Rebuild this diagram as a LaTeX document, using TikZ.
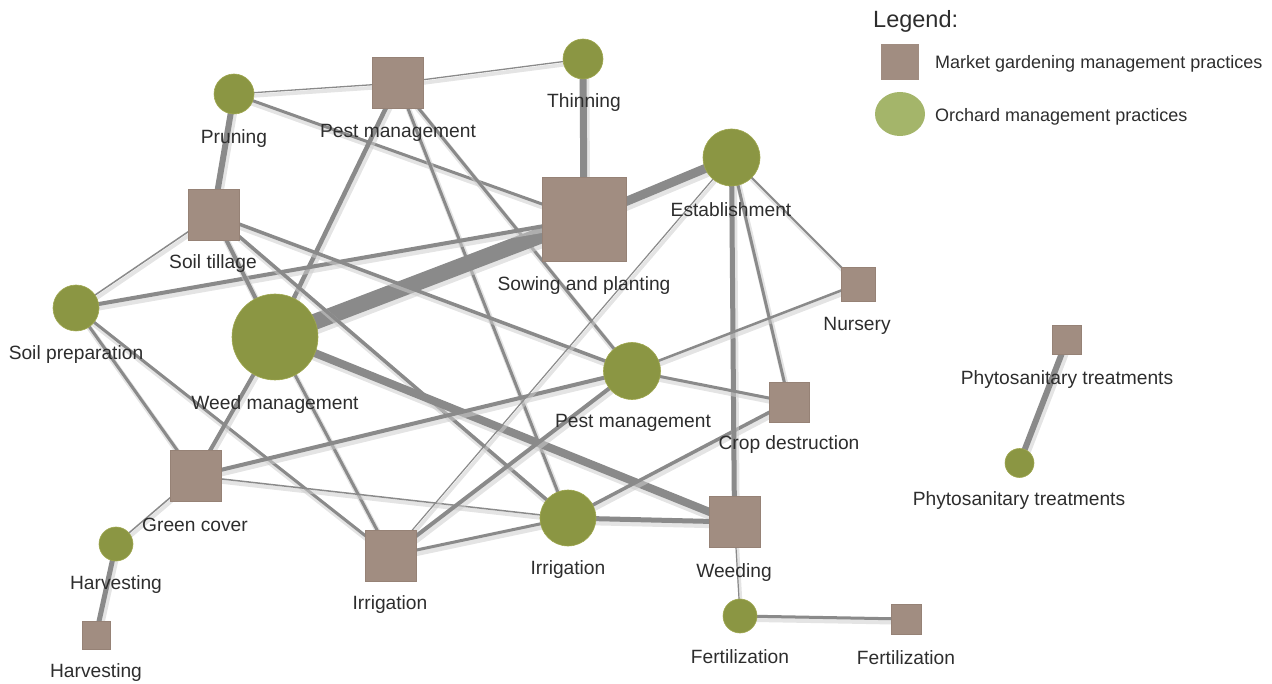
\documentclass[tikz,border=0pt]{standalone}
\usepackage{fontspec}
\setmainfont{Liberation Sans}
\usetikzlibrary{backgrounds,shapes.geometric}
\definecolor{sqfill}{RGB}{161,141,129}
\definecolor{sqdraw}{RGB}{150,130,118}
\definecolor{cifill}{RGB}{139,150,67}
\definecolor{cidraw}{RGB}{160,168,80}
\definecolor{legcirc}{RGB}{164,181,106}
\definecolor{edgecol}{RGB}{138,138,138}
\definecolor{shadowcol}{RGB}{205,205,205}
\definecolor{txt}{RGB}{45,45,45}
\tikzset{
  sq/.style={rectangle, fill=sqfill, draw=sqdraw, line width=0.6pt, minimum size=#1, inner sep=0pt},
  ci/.style={circle, fill=cifill, draw=cidraw, line width=0.6pt, minimum size=#1, inner sep=0pt},
  lab/.style={text=txt, font=\fontsize{19.2}{21}\selectfont, inner sep=0pt, anchor=center},
  legtxt/.style={text=txt, font=\fontsize{18}{20}\selectfont, inner sep=0pt, anchor=west},
  edge/.style={draw=edgecol, line width=#1, line cap=butt,
    preaction={draw=shadowcol, line width=#1+2.5pt, opacity=0.55, transform canvas={shift={(1.5pt,-3pt)}}}},
}
\begin{document}
\begin{tikzpicture}[x=1pt,y=-1pt]
\useasboundingbox (0,0) rectangle (1272,684);
% nodes
\node[ci=40pt] (PR) at (234,94) {};
\node[sq=51pt] (PMm) at (398,83) {};
\node[ci=40pt] (TH) at (583,59) {};
\node[sq=84pt] (SP) at (584,219) {};
\node[ci=57pt] (ES) at (731.5,157.5) {};
\node[sq=51pt] (ST) at (213.5,214.5) {};
\node[ci=46pt] (SPr) at (76,308) {};
\node[ci=86pt] (WM) at (275,337) {};
\node[sq=34pt] (NU) at (858,284) {};
\node[ci=57pt] (PMo) at (632,371) {};
\node[sq=40pt] (CD) at (789,402) {};
\node[sq=51pt] (GC) at (195.5,476) {};
\node[ci=34pt] (HVo) at (116,544) {};
\node[sq=28pt] (HVm) at (96,635) {};
\node[sq=51pt] (IRm) at (390.5,555.5) {};
\node[ci=56pt] (IRo) at (568,518) {};
\node[sq=51pt] (WE) at (734.5,522) {};
\node[ci=34pt] (FEo) at (740,616) {};
\node[sq=30pt] (FEm) at (906,619) {};
\node[sq=29pt] (PHm) at (1067,340) {};
\node[ci=29pt] (PHo) at (1019.5,463) {};
% edges
\begin{scope}[on background layer]
\draw[edge=1.3pt] (PR.center) -- (PMm.center);
\draw[edge=6pt] (PR.center) -- (ST.center);
\draw[edge=3pt] (PR.center) -- (SP.center);
\draw[edge=1.3pt] (PMm.center) -- (TH.center);
\draw[edge=4.5pt] (PMm.center) -- (WM.center);
\draw[edge=3pt] (PMm.center) -- (IRo.center);
\draw[edge=3pt] (PMm.center) -- (PMo.center);
\draw[edge=7pt] (TH.center) -- (SP.center);
\draw[edge=9pt] (SP.center) -- (ES.center);
\draw[edge=16pt] (SP.center) -- (WM.center);
\draw[edge=4pt] (SP.center) -- (SPr.center);
\draw[edge=1.5pt] (ST.center) -- (SPr.center);
\draw[edge=4pt] (ST.center) -- (WM.center);
\draw[edge=3.5pt] (ST.center) -- (PMo.center);
\draw[edge=3.5pt] (ST.center) -- (IRo.center);
\draw[edge=3pt] (SPr.center) -- (GC.center);
\draw[edge=3pt] (SPr.center) -- (IRm.center);
\draw[edge=8pt] (WM.center) -- (WE.center);
\draw[edge=4pt] (WM.center) -- (GC.center);
\draw[edge=3pt] (WM.center) -- (IRm.center);
\draw[edge=1.5pt] (GC.center) -- (HVo.center);
\draw[edge=4pt] (GC.center) -- (PMo.center);
\draw[edge=1.5pt] (GC.center) -- (IRo.center);
\draw[edge=3pt] (IRm.center) -- (IRo.center);
\draw[edge=1.2pt] (IRm.center) -- (ES.center);
\draw[edge=4pt] (IRm.center) -- (PMo.center);
\draw[edge=3.5pt] (IRo.center) -- (CD.center);
\draw[edge=5pt] (IRo.center) -- (WE.center);
\draw[edge=2pt] (ES.center) -- (NU.center);
\draw[edge=5pt] (ES.center) -- (WE.center);
\draw[edge=3pt] (ES.center) -- (CD.center);
\draw[edge=2.5pt] (NU.center) -- (PMo.center);
\draw[edge=3pt] (PMo.center) -- (CD.center);
\draw[edge=1.2pt] (WE.center) -- (FEo.center);
\draw[edge=3pt] (FEo.center) -- (FEm.center);
\draw[edge=5pt] (HVo.center) -- (HVm.center);
\draw[edge=6pt] (PHm.center) -- (PHo.center);
\end{scope}
% labels
\node[lab] (lPR) at (234,139) {Pruning};
\node[lab] (lPMm) at (398,133) {Pest management};
\node[lab] (lTH) at (584,103) {Thinning};
\node[lab] (lSP) at (584,286) {Sowing and planting};
\node[lab] (lES) at (731,210) {Establishment};
\node[lab] (lST) at (213,264) {Soil tillage};
\node[lab] (lSPr) at (76,355) {Soil preparation};
\node[lab] (lWM) at (275,405) {Weed management};
\node[lab] (lNU) at (857,326) {Nursery};
\node[lab] (lPMo) at (633,423) {Pest management};
\node[lab] (lCD) at (789,445) {Crop destruction};
\node[lab] (lGC) at (195,525) {Green cover};
\node[lab] (lHVo) at (116,585) {Harvesting};
\node[lab] (lHVm) at (96,673) {Harvesting};
\node[lab] (lIRm) at (390,605) {Irrigation};
\node[lab] (lIRo) at (568,570) {Irrigation};
\node[lab] (lWE) at (734,573) {Weeding};
\node[lab] (lFEo) at (740,657) {Fertilization};
\node[lab] (lFEm) at (906,658) {Fertilization};
\node[lab] (lPHm) at (1067,380) {Phytosanitary treatments};
\node[lab] (lPHo) at (1019,501) {Phytosanitary treatments};
% legend
\node[text=txt, font=\fontsize{23.5}{25}\selectfont, inner sep=0pt, anchor=west] (legt) at (873,21) {Legend:};
\node[rectangle, fill=sqfill, minimum width=38pt, minimum height=36pt, inner sep=0pt] (legsq) at (900,62) {};
\node[ellipse, fill=legcirc, minimum width=50pt, minimum height=44pt, inner sep=0pt] (legci) at (900,114) {};
\node[legtxt] (legsqt) at (935,64) {Market gardening management practices};
\node[legtxt] (legcit) at (935,117) {Orchard management practices};
\end{tikzpicture}
\end{document}
